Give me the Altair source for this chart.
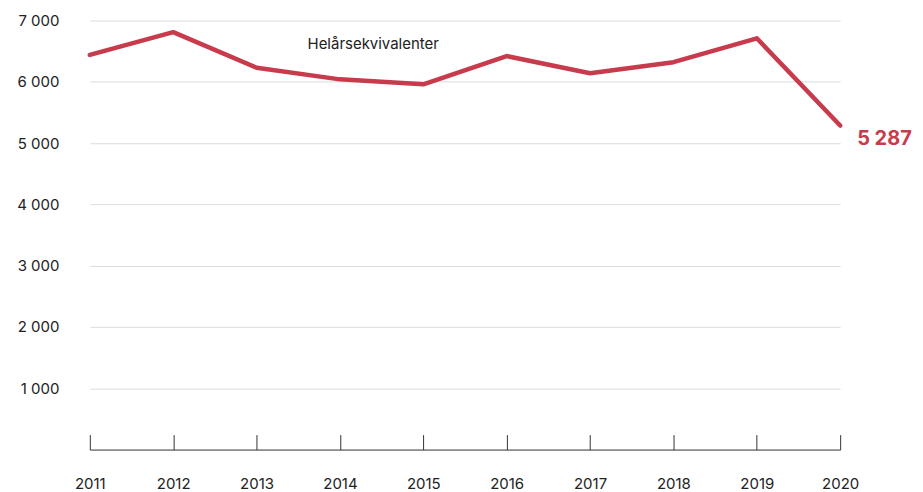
import altair as alt
import pandas as pd

years = ["2011", "2012", "2013", "2014", "2015", "2016", "2017", "2018", "2019", "2020"]
values = [6440, 6810, 6230, 6040, 5960, 6420, 6140, 6320, 6710, 5287]
series_label = "Helårsekvivalenter"

df = pd.DataFrame({"year": years, "value": values})
RED = "#C73B4D"
FONT = "Inter"

x = alt.X("year:O", title=None,
          scale=alt.Scale(type="point", padding=0),
          axis=alt.Axis(labelAngle=0, domain=False, ticks=True, tickSize=15,
                        tickColor="#333", tickWidth=1, offset=-15,
                        labelPadding=27, labelFontSize=15, labelColor="#222",
                        labelFont=FONT, grid=False))
y = alt.Y("value:Q", title=None,
          scale=alt.Scale(domain=[0, 7000], nice=False),
          axis=alt.Axis(values=[0, 1000, 2000, 3000, 4000, 5000, 6000, 7000],
                        labelExpr="datum.value == 0 ? '' : replace(format(datum.value, ','), ',', ' ')",
                        domain=False, ticks=False, labelPadding=31,
                        labelFontSize=15, labelColor="#222", labelFont=FONT,
                        gridColor=alt.condition("datum.value == 0", alt.value("#333"), alt.value("#dcdcdc")),
                        gridWidth=1))

base = alt.Chart(df)
line = base.mark_line(color=RED, strokeWidth=4.5, strokeCap="round", strokeJoin="round").encode(x=x, y=y)

last = base.transform_filter("datum.year == '2020'").transform_calculate(
    lab="replace(format(datum.value, ','), ',', ' ')"
).mark_text(align="left", baseline="middle", dx=17, dy=14, fontSize=20,
            fontWeight="bold", color=RED, font=FONT).encode(x="year:O", y="value:Q", text="lab:N")

ann = alt.Chart(pd.DataFrame({"t": [series_label]})).mark_text(
    align="center", baseline="middle", fontSize=15, color="#222", font=FONT
).encode(x=alt.value(284), y=alt.value(24), text="t:N")

chart = alt.layer(line, last, ann).properties(
    width=752, height=430,
    autosize=alt.AutoSizeParams(type="none"),
    padding={"left": 82, "top": 12, "right": 75, "bottom": 46},
).configure(background="white").configure_view(stroke=None, strokeWidth=0)

chart.save("out.html", embed_options={"renderer": "svg", "actions": False})
